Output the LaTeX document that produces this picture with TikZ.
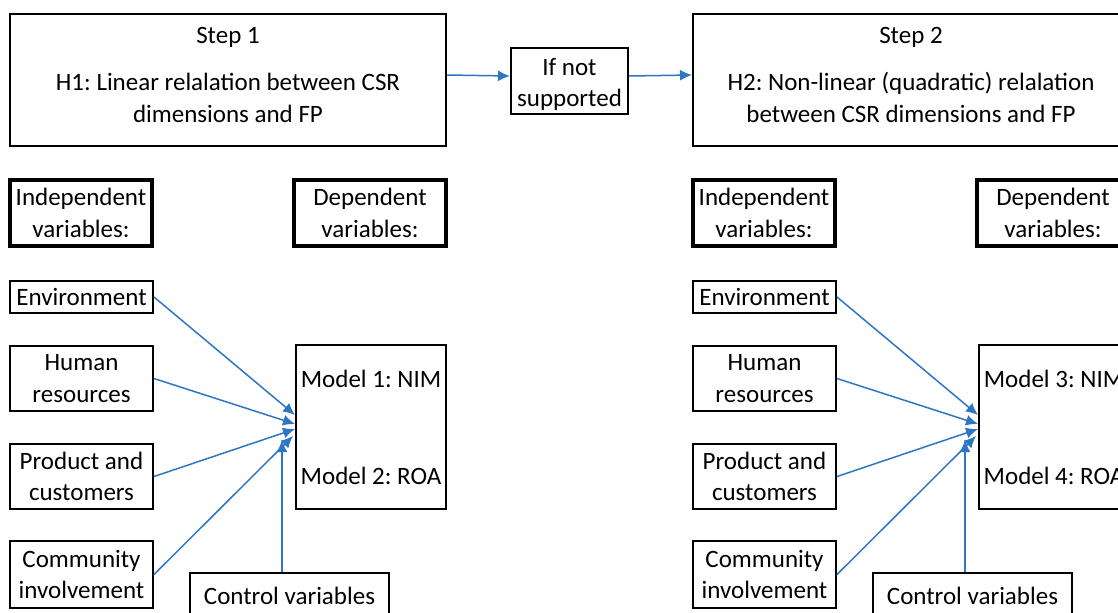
\documentclass[tikz,border=0pt]{standalone}
\usepackage{fontspec}
\setmainfont{Carlito}
\usetikzlibrary{arrows.meta}
\definecolor{linkblue}{HTML}{2E75C6}
\frenchspacing

\tikzset{
  varbox/.style={draw, line width=1pt, align=center, inner sep=0pt,
    font=\fontsize{12.5}{15.75}\selectfont},
  headbox/.style={varbox, line width=2pt},
  link/.style={linkblue, line width=0.75pt, -{Latex[length=6pt,width=5.5pt]}}
}

\begin{document}
\begin{tikzpicture}[x=0.5pt, y=-0.5pt]
  \useasboundingbox (0,0) rectangle (1118,612);
  \clip (0,0) rectangle (1118,612);

  % top row
  \node [varbox, minimum width=218pt, minimum height=66pt] (step1) at (228,80)
    {Step 1\\[7.5pt] H1: Linear relalation between CSR\\[0.5pt] dimensions and FP\rule[-5pt]{0pt}{0pt}};
  \node [varbox, minimum width=58.5pt, minimum height=33pt] (ifnot) at (569.5,81)
    {\rule{0pt}{12pt}If not\\ supported};
  \node [varbox, minimum width=218pt, minimum height=66pt] (step2) at (911,80)
    {Step 2\\[7.5pt] H2: Non-linear (quadratic) relalation\\[0.5pt] between CSR dimensions and FP\rule[-5pt]{0pt}{0pt}};
  \draw [link] ([yshift=2.5pt]step1.east) -- ([yshift=2.5pt]ifnot.west);
  \draw [link] ([yshift=2.5pt]ifnot.east) -- ([yshift=2.5pt]step2.west);

  % step 1
  \node [headbox, minimum width=71pt, minimum height=33pt] (indep1) at (81,213) {Independent\\ variables:};
  \node [headbox, minimum width=76pt, minimum height=33pt] (dep1) at (370,213) {Dependent\\ variables:};
  \node [varbox, minimum width=71.5pt, minimum height=16pt] (env1) at (81.5,297) {Environment};
  \node [varbox, minimum width=71.5pt, minimum height=32.5pt] (hr1) at (81.5,378.5) {Human\\ resources};
  \node [varbox, minimum width=71.5pt, minimum height=32.5pt] (prod1) at (81.5,476.5) {Product and\\ customers};
  \node [varbox, minimum width=71.5pt, minimum height=33.5pt] (comm1) at (81.5,574.5) {Community\\ involvement};
  \node [varbox, minimum width=75pt, minimum height=82pt] (model1) at (371,427)
    {Model 1: NIM\\[32.75pt] Model 2: ROA};
  \node [varbox, minimum width=99.5pt, minimum height=23pt] (ctrl1) at (289.5,596) {Control variables};
  \coordinate (in1) at ([xshift=-6.5pt, yshift=-6.5pt]model1.west);
  \draw [link] (env1.east) -- ([yshift=6pt]model1.west);
  \draw [link] (hr1.east) -- ([yshift=1.5pt]model1.west);
  \draw [link] (prod1.east) -- ([yshift=-1pt]model1.west);
  \draw [link] (comm1.east) -- ([xshift=-1pt, yshift=-4.5pt]model1.west);
  \draw [link] (ctrl1.north -| in1) -- (in1);

  % step 2
  \node [headbox, minimum width=71pt, minimum height=33pt] (indep2) at (764,213) {Independent\\ variables:};
  \node [headbox, minimum width=76pt, minimum height=33pt] (dep2) at (1053,213) {Dependent\\ variables:};
  \node [varbox, minimum width=71.5pt, minimum height=16pt] (env2) at (764.5,297) {Environment};
  \node [varbox, minimum width=71.5pt, minimum height=32.5pt] (hr2) at (764.5,378.5) {Human\\ resources};
  \node [varbox, minimum width=71.5pt, minimum height=32.5pt] (prod2) at (764.5,476.5) {Product and\\ customers};
  \node [varbox, minimum width=71.5pt, minimum height=33.5pt] (comm2) at (764.5,574.5) {Community\\ involvement};
  \node [varbox, minimum width=75pt, minimum height=82pt] (model2) at (1054,427)
    {Model 3: NIM\\[32.75pt] Model 4: ROA};
  \node [varbox, minimum width=99.5pt, minimum height=23pt] (ctrl2) at (972.5,596) {Control variables};
  \coordinate (in2) at ([xshift=-6.5pt, yshift=-6.5pt]model2.west);
  \draw [link] (env2.east) -- ([yshift=6pt]model2.west);
  \draw [link] (hr2.east) -- ([yshift=1.5pt]model2.west);
  \draw [link] (prod2.east) -- ([yshift=-1pt]model2.west);
  \draw [link] (comm2.east) -- ([xshift=-1pt, yshift=-4.5pt]model2.west);
  \draw [link] (ctrl2.north -| in2) -- (in2);
\end{tikzpicture}
\end{document}
